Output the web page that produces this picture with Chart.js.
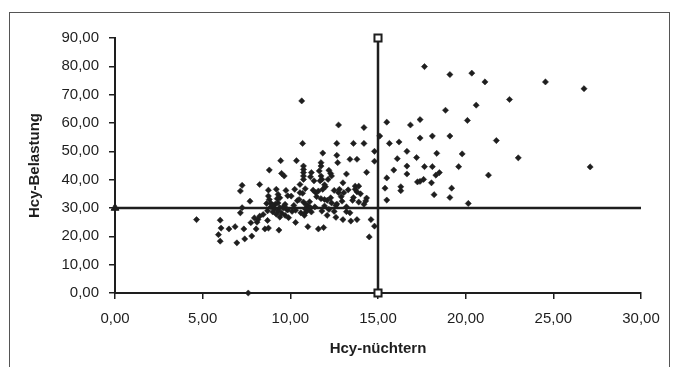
<!DOCTYPE html>
<html>
<head>
<meta charset="utf-8">
<script src="https://cdn.jsdelivr.net/npm/chart.js@4"></script>
<style>
html,body{margin:0;padding:0;background:#fff;}
#wrap{position:relative;width:673px;height:367px;}
</style>
</head>
<body>
<div id="wrap"><canvas id="c" width="673" height="367"></canvas></div>
<script>
// Scatter data: Hcy-nüchtern (x) vs Hcy-Belastung (y)
const xValues = [
17.65,19.1,20.35,21.1,24.55,26.75,22.5,20.6,18.85,20.1,17.4,16.85,15.5,15.1,18.1,19.1,17.4,21.75,15.65,16.2,
16.65,18.35,19.8,23.0,17.2,16.1,27.1,17.65,18.1,19.6,16.65,15.9,18.5,18.3,16.65,21.3,15.5,17.6,17.4,17.25,
18.05,16.3,16.3,15.4,19.2,18.2,19.1,15.5,20.15,
14.8,14.8,14.2,14.2,13.6,14.35,14.35,14.3,14.2,14.6,14.8,14.5,13.8,13.45,13.4,13.9,13.55,13.8,13.7,13.9,13.7,
13.4,13.8,12.75,12.65,12.65,12.7,13.2,13.0,12.8,13.05,12.75,12.95,12.65,13.2,12.5,12.6,13.0,
11.85,11.75,11.75,11.65,11.75,11.7,11.8,11.95,12.2,12.3,12.35,12.15,11.85,11.6,11.45,12.3,12.1,12.35,11.95,11.75,
12.2,11.95,11.6,11.9,11.35,11.2,11.15,10.75,10.75,10.75,10.75,10.75,10.65,10.7,10.35,10.55,10.7,10.85,10.55,10.25,
10.4,10.75,11.0,11.15,10.85,10.6,10.85,11.0,10.8,11.0,10.3,10.05,9.85,9.75,9.45,9.5,9.65,9.2,9.3,9.4,
9.25,8.8,8.75,8.75,8.8,8.65,8.9,9.15,9.4,9.65,9.85,9.7,8.7,8.45,8.25,8.15,8.1,7.95,7.7,8.25,
7.25,7.15,7.25,7.15,7.75,8.05,8.55,8.75,9.35,7.8,7.4,7.35,6.85,6.5,6.0,6.05,5.9,6.0,6.95,4.65,7.6,
8.9,9.1,9.3,9.5,9.7,9.9,9.0,9.2,9.6,9.8,8.7,9.4,10.1,10.3,9.0,9.3,
11.3,11.5,12.0,12.5,12.9,11.1,11.4,12.6,13.2,11.8,12.1,13.3,13.6,14.0,
10.2,10.9,11.2,10.5
];
const yValues = [
79.9,77.1,77.6,74.5,74.5,72.1,68.3,66.3,64.5,60.9,61.2,59.3,60.3,55.4,55.4,55.4,54.7,53.8,52.8,53.3,
50.0,49.3,49.1,47.7,47.8,47.4,44.5,44.6,44.6,44.6,44.8,43.4,42.5,41.6,42.0,41.6,40.6,40.1,39.4,39.2,
38.9,37.5,36.1,37.0,37.0,34.7,33.7,32.8,31.6,
50.0,46.5,58.4,52.8,52.8,42.6,33.5,32.5,31.3,25.9,23.6,19.8,25.9,25.4,28.3,32.1,32.7,35.7,37.7,37.7,36.6,
47.2,47.2,59.3,52.8,48.6,46.0,42.0,38.9,36.6,35.4,35.4,32.4,31.4,30.4,28.8,26.7,25.9,
49.4,46.0,44.8,43.1,41.3,39.6,40.1,38.2,43.3,42.2,41.3,40.1,36.6,36.0,35.4,33.6,32.7,31.8,33.0,33.3,
29.5,30.7,22.6,23.1,39.6,42.5,41.0,44.8,43.6,42.5,41.3,40.1,67.8,52.8,46.7,38.3,35.2,36.8,35.4,36.6,
32.6,32.1,30.7,30.1,29.7,28.3,28.3,29.3,27.4,23.4,24.9,34.2,34.3,36.2,46.7,42.2,41.3,36.6,34.8,33.6,
33.3,43.4,36.3,34.2,33.0,31.6,31.6,31.4,30.1,30.7,29.3,31.3,25.6,27.7,27.1,25.9,25.0,26.5,32.4,38.3,
38.0,36.0,30.1,28.3,24.8,22.6,22.6,22.9,22.2,20.1,19.1,22.6,23.4,22.6,25.7,22.9,20.6,18.3,17.7,25.9,0.0,
30.4,29.8,29.0,28.2,27.4,26.6,28.6,27.8,30.0,29.5,29.0,26.8,28.8,29.2,31.0,31.8,
36.3,34.0,37.5,36.2,34.0,32.2,30.4,30.9,28.7,28.9,27.4,36.4,33.7,35.0,
30.9,31.2,28.6,33.0
];
// Reference lines
const vLineX = [15, 15];
const vLineY = [0, 90];
const hLineX = [0, 30];
const hLineY = [30, 30];
// Axes
const xTicks = [0, 5, 10, 15, 20, 25, 30];
const yTicks = [0, 10, 20, 30, 40, 50, 60, 70, 80, 90];
const xTitle = 'Hcy-nüchtern';
const yTitle = 'Hcy-Belastung';

const pts = xValues.map((x, i) => ({x: x, y: yValues[i]}));
const vPts = vLineX.map((x, i) => ({x: x, y: vLineY[i]}));
const hPts = hLineX.map((x, i) => ({x: x, y: hLineY[i]}));

const fmt = v => Number(v).toFixed(2).replace('.', ',');
const FONT = "'Liberation Sans', Arial, sans-serif";
const INK = '#1e1e1e';

const framePlugin = {
  id: 'frame',
  beforeDraw(chart) {
    const ctx = chart.ctx;
    ctx.save();
    ctx.fillStyle = '#fff';
    ctx.fillRect(0, 0, chart.width, chart.height);
    ctx.strokeStyle = '#555';
    ctx.lineWidth = 1;
    ctx.strokeRect(9.5, 12.5, 660, 400);
    ctx.restore();
  },
  afterDraw(chart) {
    const ctx = chart.ctx;
    const xs = chart.scales.x, ys = chart.scales.y;
    ctx.save();
    ctx.fillStyle = INK;
    ctx.font = "bold 15px " + FONT;
    ctx.textAlign = 'center';
    ctx.textBaseline = 'middle';
    ctx.fillText(xTitle, (xs.left + xs.right) / 2, 349);
    ctx.translate(35, (ys.top + ys.bottom) / 2);
    ctx.rotate(-Math.PI / 2);
    ctx.fillText(yTitle, 0, 0);
    ctx.restore();
  }
};

new Chart(document.getElementById('c'), {
  type: 'scatter',
  data: {
    datasets: [
      {
        data: hPts, showLine: true, borderColor: INK, borderWidth: 2.5,
        pointStyle: 'triangle', pointRadius: [4.5, 0], backgroundColor: INK,
        pointBorderColor: INK, pointBorderWidth: 1, clip: false, order: 2
      },
      {
        data: vPts, showLine: true, borderColor: INK, borderWidth: 2.5,
        pointStyle: 'rect', pointRadius: 5, backgroundColor: '#fff',
        pointBackgroundColor: '#fff', pointBorderColor: INK, pointBorderWidth: 2,
        clip: false, order: 1
      },
      {
        data: pts, showLine: false, pointStyle: 'rectRot', pointRadius: 3.1,
        backgroundColor: INK, borderColor: INK, pointBorderWidth: 0.5,
        clip: false, order: 0
      }
    ]
  },
  options: {
    responsive: false,
    animation: false,
    devicePixelRatio: 1,
    layout: { padding: { top: 38, right: 32, left: 0, bottom: 0 } },
    plugins: { legend: { display: false }, tooltip: { enabled: false } },
    scales: {
      x: {
        type: 'linear', min: 0, max: 30,
        afterBuildTicks: s => { s.ticks = xTicks.map(v => ({value: v})); },
        afterFit: s => { s.height = 74; },
        grid: { display: true, drawOnChartArea: false, drawTicks: true, tickLength: 6, color: INK, lineWidth: 1.5 },
        border: { display: true, color: INK, width: 2 },
        ticks: { callback: v => fmt(v), color: INK, font: { family: FONT, size: 15 }, padding: 11, maxRotation: 0 }
      },
      y: {
        type: 'linear', min: 0, max: 90,
        afterBuildTicks: s => { s.ticks = yTicks.map(v => ({value: v})); },
        afterFit: s => { s.width = 115; },
        grid: { display: true, drawOnChartArea: false, drawTicks: true, tickLength: 6, color: INK, lineWidth: 1.5 },
        border: { display: true, color: INK, width: 2 },
        ticks: { callback: v => fmt(v), color: INK, font: { family: FONT, size: 15 }, padding: 10 }
      }
    }
  },
  plugins: [framePlugin]
});
</script>
</body>
</html>
